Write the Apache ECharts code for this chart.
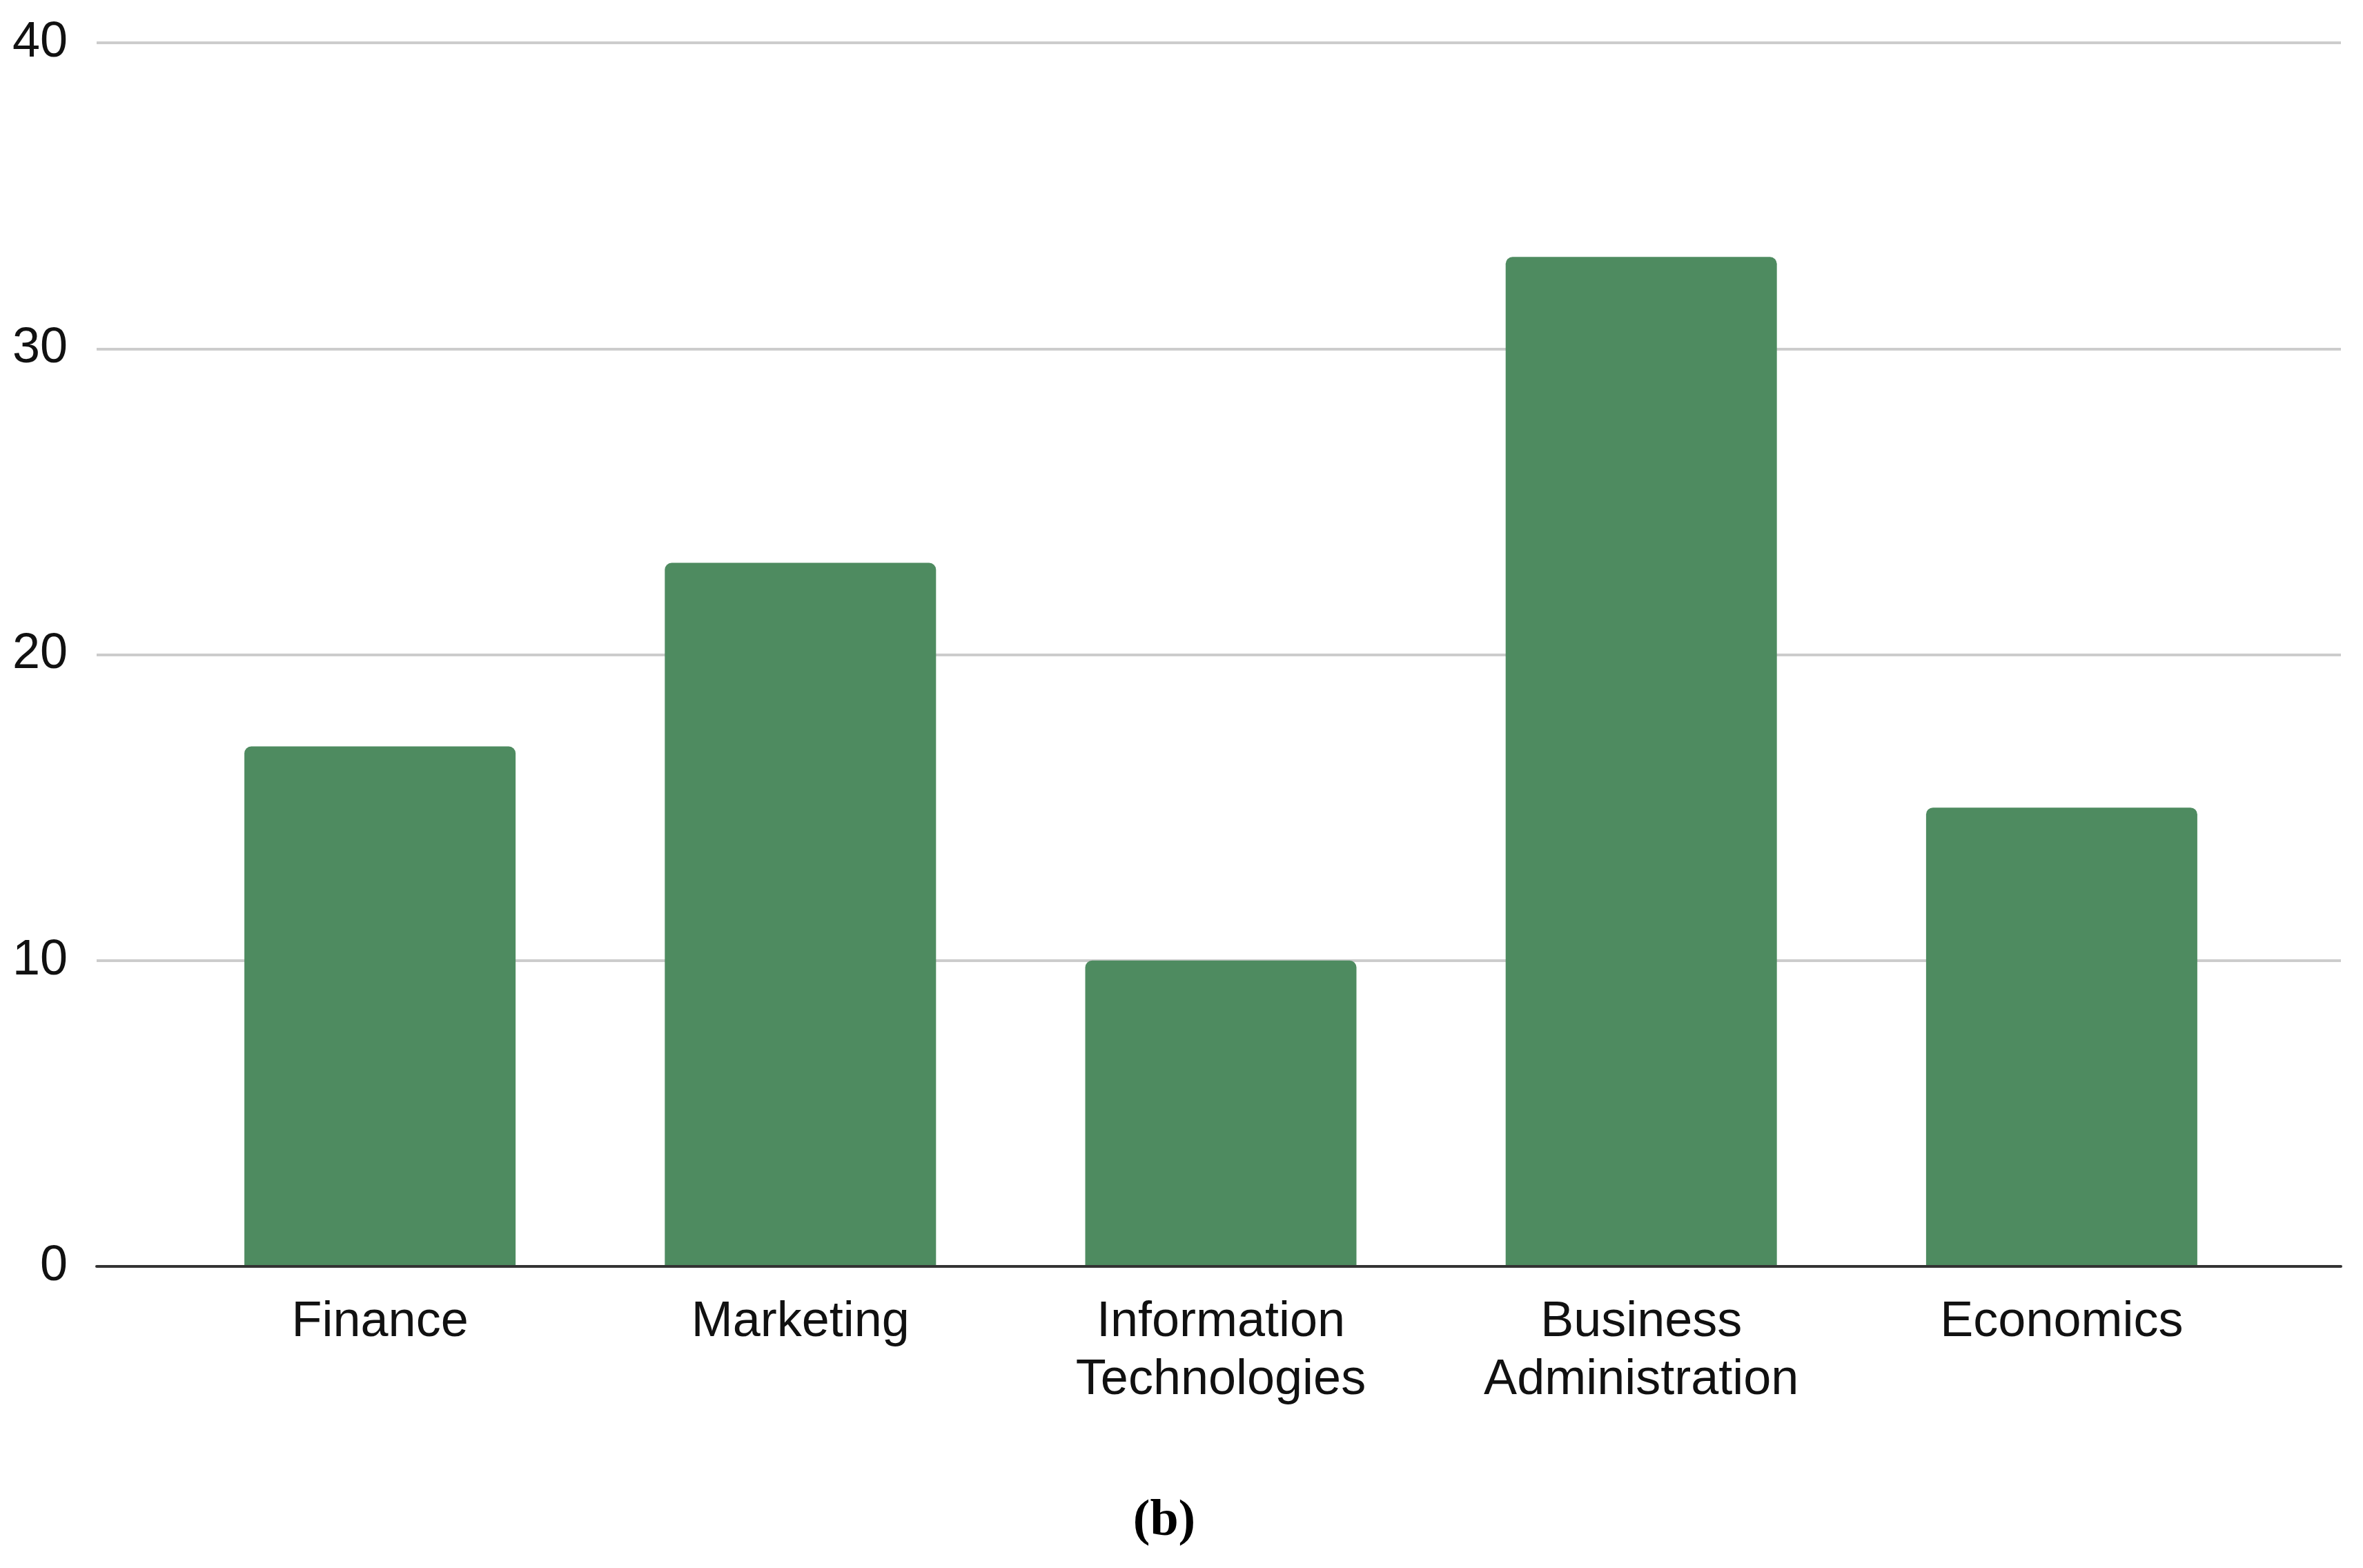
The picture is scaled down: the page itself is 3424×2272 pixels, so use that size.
<!DOCTYPE html>
<html>
<head>
<meta charset="utf-8">
<script src="https://cdn.jsdelivr.net/npm/echarts@6/dist/echarts.min.js"></script>
<style>
html,body{margin:0;padding:0;background:#fff;}
#chart{width:3424px;height:2272px;}
</style>
</head>
<body>
<div id="chart"></div>
<script>
const categories = ["Finance", "Marketing", "Information\nTechnologies", "Business\nAdministration", "Economics"];
const values = [17, 23, 10, 33, 15];
const yTicks = [0, 10, 20, 30, 40];
const caption = "(b)";

const chart = echarts.init(document.getElementById('chart'), null, {renderer: 'canvas'});
const FONT = '"Liberation Sans", Arial, sans-serif';
chart.setOption({
  backgroundColor: '#ffffff',
  animation: false,
  grid: [
    {left: 140, right: 32, top: 62, bottom: 437},
    {left: 246, right: 132, top: 62, bottom: 437}
  ],
  xAxis: [
    {
      gridIndex: 0, type: 'value', min: 0, max: 1, z: 5,
      axisLine: {show: true, lineStyle: {color: '#333333', width: 4}},
      axisTick: {show: false}, axisLabel: {show: false}, splitLine: {show: false}
    },
    {
      gridIndex: 1, type: 'category', data: categories,
      axisLine: {show: false}, axisTick: {show: false}, splitLine: {show: false},
      axisLabel: {
        show: true, interval: 0, margin: 39,
        fontFamily: FONT, fontSize: 72, lineHeight: 84, color: '#111111', align: 'center'
      }
    }
  ],
  yAxis: [
    {
      gridIndex: 0, type: 'value', min: yTicks[0], max: yTicks[yTicks.length - 1], interval: 10,
      axisLine: {show: false}, axisTick: {show: false},
      splitLine: {show: true, lineStyle: {color: '#cccccc', width: 4}},
      axisLabel: {show: true, margin: 42, fontFamily: FONT, fontSize: 72, color: '#111111'}
    },
    {
      gridIndex: 1, type: 'value', min: yTicks[0], max: yTicks[yTicks.length - 1], interval: 10,
      show: false
    }
  ],
  series: [{
    type: 'bar',
    xAxisIndex: 1, yAxisIndex: 1,
    data: values,
    barWidth: 393,
    itemStyle: {color: '#4e8b60', borderRadius: [10, 10, 0, 0]}
  }],
  graphic: [{
    type: 'text', x: 1687, y: 2168,
    style: {text: caption, font: 'bold 74px "Liberation Serif", "Times New Roman", serif', fill: '#000000', align: 'center', verticalAlign: 'top'}
  }]
});
</script>
</body>
</html>
